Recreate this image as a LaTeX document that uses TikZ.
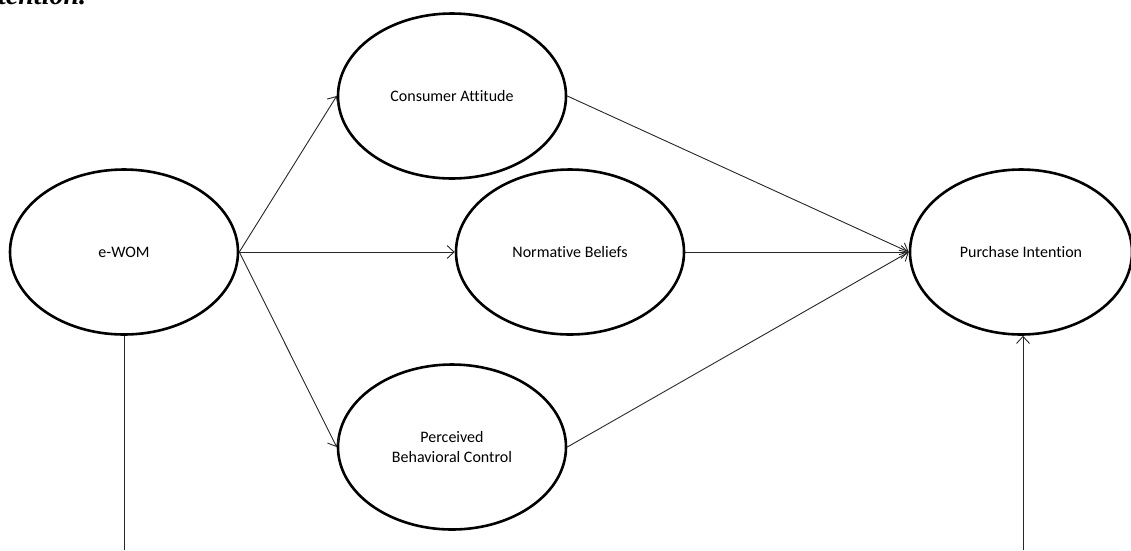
\documentclass[tikz,border=0pt]{standalone}
\usepackage{fontspec}
\setmainfont{Carlito}[Ligatures=NoCommon]
\newfontfamily\capfont{Liberation Serif}
\usetikzlibrary{shapes.geometric,arrows.meta,positioning}

\begin{document}
\begin{tikzpicture}[
        x=1pt, y=-1pt,
        ellsty/.style={
            draw, ellipse, line width=2.6pt,
            minimum width=228pt,
            minimum height=165pt,
            inner sep=0pt,
            font=\fontsize{16}{20}\selectfont,
            align=center,
        },
        arrowsty/.style={-{Straight Barb[length=7pt,width=13pt]}, line width=0.9pt, black!85},
        linesty/.style={line width=0.9pt, black!85},
    ]
    \useasboundingbox (0,0) rectangle (1131,550);

    % cut-off caption above the model
    \node[anchor=base west, inner sep=0pt, font=\capfont\bfseries\itshape\fontsize{28}{30}\selectfont] (cap) at (-2,4) {tention.};

    \node[ellsty] (ewom) at (124,252) {e-WOM};
    \node[ellsty] (att) at (452,96) {Consumer Attitude};
    \node[ellsty] (norm) at (570,252) {Normative Beliefs};
    \node[ellsty] (pbc) at (452,447) {Perceived\\Behavioral Control};
    \node[ellsty, minimum width=222pt] (pi) at (1021,252) {Purchase Intention};

    \coordinate (ewomend) at (124,550);
    \coordinate (pistart) at (1023,550);

    \draw[arrowsty] (ewom.east) -- (att.west);
    \draw[arrowsty] (ewom.east) -- (norm.west);
    \draw[arrowsty] (ewom.east) -- (pbc.west);

    \draw[arrowsty] (att.east) -- (pi.west);
    \draw[arrowsty] (norm.east) -- (pi.west);
    \draw[arrowsty] (pbc.east) -- (pi.west);

    \draw[linesty] (ewom.south) -- (ewomend);
    \draw[arrowsty] (pistart) -- (pistart |- pi.south);

\end{tikzpicture}
\end{document}
